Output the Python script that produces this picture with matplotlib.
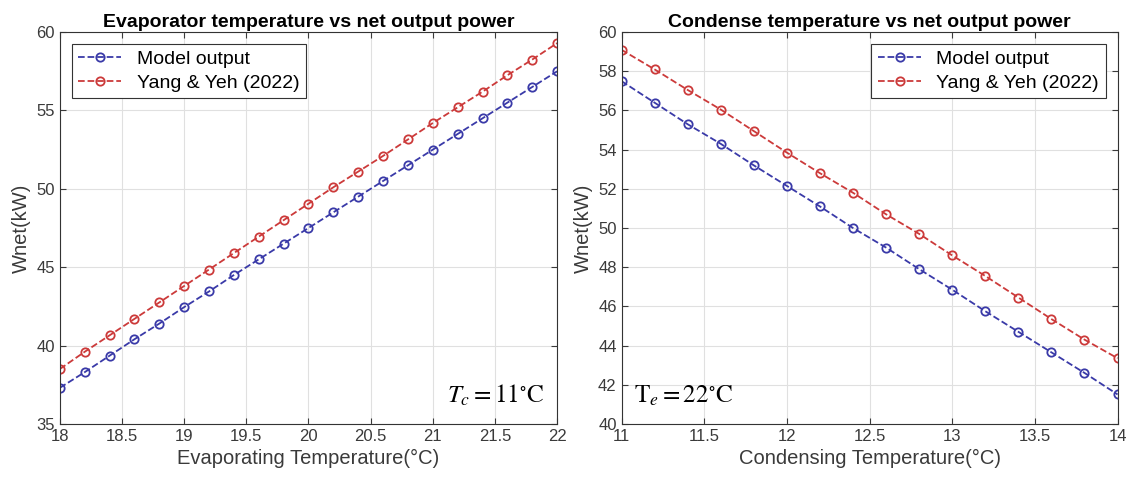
import numpy as np
import matplotlib
matplotlib.use("Agg")
import matplotlib.pyplot as plt

plt.rcParams['font.family'] = ['Liberation Sans', 'DejaVu Sans']
plt.rcParams['mathtext.fontset'] = 'stix'

# Left: evaporating temperature sweep (Tc = 11 C)
evap_temp = [18.0, 18.2, 18.4, 18.6, 18.8, 19.0, 19.2, 19.4, 19.6, 19.8, 20.0,
             20.2, 20.4, 20.6, 20.8, 21.0, 21.2, 21.4, 21.6, 21.8, 22.0]
evap_model = [37.3, 38.3, 39.35, 40.4, 41.4, 42.45, 43.45, 44.5, 45.5, 46.5, 47.5,
              48.5, 49.5, 50.5, 51.5, 52.5, 53.5, 54.5, 55.5, 56.5, 57.5]
evap_yang = [38.5, 39.6, 40.65, 41.7, 42.75, 43.8, 44.85, 45.9, 46.95, 48.0, 49.05,
             50.1, 51.1, 52.1, 53.15, 54.2, 55.2, 56.2, 57.25, 58.25, 59.3]

# Right: condensing temperature sweep (Te = 22 C)
cond_temp = [11.0, 11.2, 11.4, 11.6, 11.8, 12.0, 12.2, 12.4, 12.6, 12.8, 13.0,
             13.2, 13.4, 13.6, 13.8, 14.0]
cond_model = [57.5, 56.4, 55.3, 54.3, 53.2, 52.15, 51.1, 50.0, 49.0, 47.9, 46.85,
              45.75, 44.7, 43.65, 42.6, 41.5]
cond_yang = [59.1, 58.1, 57.05, 56.05, 54.95, 53.85, 52.8, 51.8, 50.7, 49.7, 48.6,
             47.55, 46.45, 45.35, 44.3, 43.35]

blue = '#3a3aa8'
red = '#cc3a3a'
txt = '#3a3a3a'

fig = plt.figure(figsize=(11.3, 4.8), dpi=100)
ax1 = fig.add_axes([0.053, 0.117, 0.440, 0.816])
ax2 = fig.add_axes([0.550, 0.117, 0.439, 0.816])

def style(ax):
    ax.grid(True, color='#e0e0e0', linewidth=0.8)
    ax.set_axisbelow(True)
    ax.tick_params(direction='in', top=True, right=True, labelsize=12,
                   colors=txt, length=4)
    for s in ax.spines.values():
        s.set_color('#333333')
        s.set_linewidth(0.8)

line_kw = dict(linestyle='--', marker='o', markerfacecolor='none',
               markersize=6, linewidth=1.3, markeredgewidth=1.3)
leg_kw = dict(fontsize=14, fancybox=False, edgecolor='#333333', framealpha=1,
              handlelength=2.2, borderaxespad=0.6, borderpad=0.35,
              labelspacing=0.3)

ax1.plot(evap_temp, evap_model, color=blue, label='Model output', **line_kw)
ax1.plot(evap_temp, evap_yang, color=red, label='Yang & Yeh (2022)', **line_kw)
ax1.set_xlim(18, 22)
ax1.set_ylim(35, 60)
ax1.set_xticks([18, 18.5, 19, 19.5, 20, 20.5, 21, 21.5, 22])
ax1.set_xticklabels(['18', '18.5', '19', '19.5', '20', '20.5', '21', '21.5', '22'])
ax1.set_yticks([35, 40, 45, 50, 55, 60])
ax1.set_xlabel('Evaporating Temperature(°C)', fontsize=14.5, color=txt)
ax1.set_ylabel('Wnet(kW)', fontsize=14.5, color=txt)
ax1.set_title('Evaporator temperature vs net output power', fontsize=14,
              fontweight='bold', pad=4)
style(ax1)
leg1 = ax1.legend(loc='upper left', **leg_kw)
leg1.get_frame().set_linewidth(0.8)
ax1.text(0.975, 0.04, r'$T_c = 11^{\circ}\mathrm{C}$', transform=ax1.transAxes,
         ha='right', va='bottom', fontsize=18)

ax2.plot(cond_temp, cond_model, color=blue, label='Model output', **line_kw)
ax2.plot(cond_temp, cond_yang, color=red, label='Yang & Yeh (2022)', **line_kw)
ax2.set_xlim(11, 14)
ax2.set_ylim(40, 60)
ax2.set_xticks([11, 11.5, 12, 12.5, 13, 13.5, 14])
ax2.set_xticklabels(['11', '11.5', '12', '12.5', '13', '13.5', '14'])
ax2.set_yticks([40, 42, 44, 46, 48, 50, 52, 54, 56, 58, 60])
ax2.set_xlabel('Condensing Temperature(°C)', fontsize=14.5, color=txt)
ax2.set_ylabel('Wnet(kW)', fontsize=14.5, color=txt)
ax2.set_title('Condense temperature vs net output power', fontsize=14,
              fontweight='bold', pad=4)
style(ax2)
leg2 = ax2.legend(loc='upper right', **leg_kw)
leg2.get_frame().set_linewidth(0.8)
ax2.text(0.025, 0.04, r'$\mathrm{T}_e = 22^{\circ}\mathrm{C}$', transform=ax2.transAxes,
         ha='left', va='bottom', fontsize=18)

fig.savefig('out.png', dpi=100)
